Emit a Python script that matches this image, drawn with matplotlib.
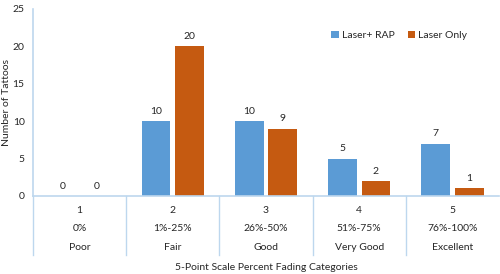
import matplotlib
matplotlib.use("Agg")
import matplotlib.pyplot as plt
import matplotlib.transforms as mtransforms
import numpy as np

plt.rcParams['font.family'] = ['Lato', 'DejaVu Sans']

codes = ['1', '2', '3', '4', '5']
ranges = ['0%', '1%-25%', '26%-50%', '51%-75%', '76%-100%']
names = ['Poor', 'Fair', 'Good', 'Very Good', 'Excellent']
laser_rap = [0, 10, 10, 5, 7]
laser_only = [0, 20, 9, 2, 1]

blue = '#5B9BD5'
orange = '#C55A11'
axis_col = '#BDD7EE'
txt = '#262626'
fs = 7.5

fig = plt.figure(figsize=(5, 2.74), dpi=100)
ax = fig.add_axes([0.066, 0.2847, 0.932, 0.684])

x = np.arange(len(codes))
w = 0.31
off = 0.18
b1 = ax.bar(x - off, laser_rap, w, color=blue, label='Laser+ RAP')
b2 = ax.bar(x + off, laser_only, w, color=orange, label='Laser Only')
for bars, vals in ((b1, laser_rap), (b2, laser_only)):
    for r, v in zip(bars, vals):
        ax.text(r.get_x() + r.get_width() / 2, v + 0.7, str(v),
                ha='center', va='bottom', fontsize=fs, color=txt)

ax.set_xlim(-0.5, 4.5)
ax.set_ylim(0, 25)
ax.set_yticks([0, 5, 10, 15, 20, 25])
ax.tick_params(axis='y', length=0, labelsize=fs, labelcolor=txt, pad=6)
ax.set_xticks([])
for s in ['top', 'right']:
    ax.spines[s].set_visible(False)
for s in ['left', 'bottom']:
    ax.spines[s].set_color(axis_col)
    ax.spines[s].set_linewidth(1.2)

# category table under the axis
tr = mtransforms.blended_transform_factory(ax.transData, ax.transAxes)
for b in np.arange(-0.5, 4.6, 1.0)[:-1]:
    ax.plot([b, b], [0, -0.315], transform=tr, color=axis_col, lw=1.0, clip_on=False)
for i in range(len(codes)):
    ax.text(i, -0.075, codes[i], transform=tr, ha='center', va='center', fontsize=fs, color=txt)
    ax.text(i, -0.176, ranges[i], transform=tr, ha='center', va='center', fontsize=fs, color=txt)
    ax.text(i, -0.277, names[i], transform=tr, ha='center', va='center', fontsize=fs, color=txt)

ax.text(0.5, -0.384, '5-Point Scale Percent Fading Categories', transform=ax.transAxes,
        ha='center', va='center', fontsize=fs, color=txt)
ax.set_ylabel('Number of Tattoos', fontsize=fs, color=txt)
ax.yaxis.set_label_coords(-0.047, 0.5)

ax.legend(loc='upper left', bbox_to_anchor=(0.62, 0.93), ncol=2, frameon=False,
          fontsize=fs, handlelength=0.7, handleheight=0.7, columnspacing=1.3,
          handletextpad=0.3, labelcolor=txt)

fig.savefig('out.png', dpi=100)
